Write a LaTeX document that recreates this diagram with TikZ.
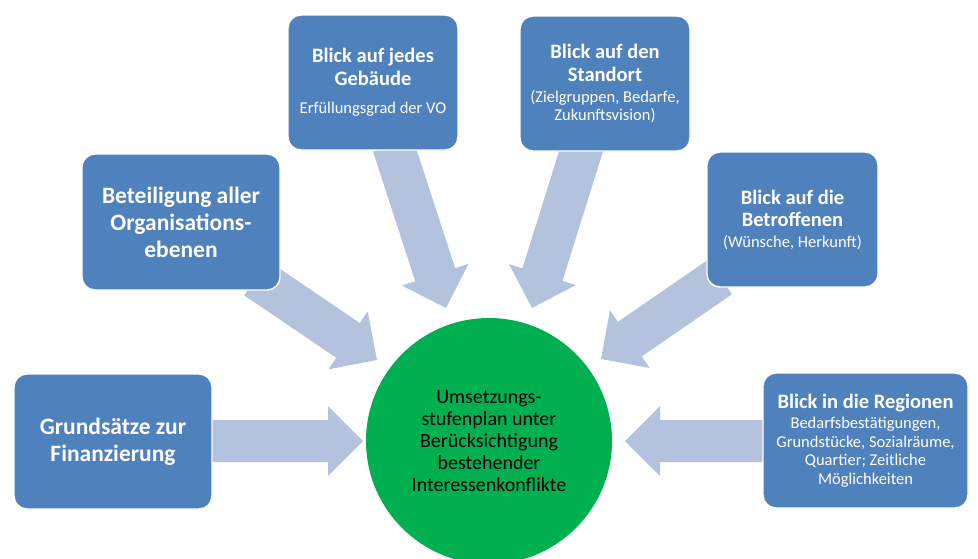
\documentclass[tikz,border=0pt]{standalone}
\usepackage{fontspec}
\setmainfont{Carlito}
\usetikzlibrary{calc,backgrounds}
\definecolor{boxblue}{HTML}{4F81BD}
\definecolor{arrowblue}{HTML}{B3C2DD}
\definecolor{circgreen}{HTML}{00B050}
\def\baSW{21pt}
\def\baHW{35pt}
\def\baHL{35pt}
\newcommand\blockarrow[2]{%
  \coordinate (ba-h) at ($(#2)!\baHL!(#1)$);
  \fill[arrowfill]
    ($(#1)!\baSW!90:(#2)$) -- ($(ba-h)!\baSW!90:(#2)$) -- ($(ba-h)!\baHW!90:(#2)$) --
    (#2) --
    ($(ba-h)!\baHW!-90:(#2)$) -- ($(ba-h)!\baSW!-90:(#2)$) -- ($(#1)!\baSW!-90:(#2)$) -- cycle;
}
\tikzset{
  arrowfill/.style={fill=arrowblue, draw=none},
  bluebox/.style={rectangle, rounded corners=13pt, fill=boxblue, draw=white, line width=1.4pt,
    text=white, align=center, inner sep=0pt},
  ttl/.style={font=\fontsize{20.5}{22.5}\selectfont\bfseries},
  bigttl/.style={font=\fontsize{23.5}{27}\selectfont\bfseries},
  centre/.style={circle, fill=circgreen, draw=none, minimum size=246pt, inner sep=0pt,
    align=center, text=black, font=\fontsize{20}{22}\selectfont},
}
\newcommand\subt{\fontsize{16.5}{18.5}\selectfont\mdseries}
\begin{document}
\begin{tikzpicture}[x=1pt,y=-1pt]
\useasboundingbox (0,0) rectangle (978,558);
\clip (0,0) rectangle (978,558);

\node[centre] (c) at (489,441) {Umsetzungs-\\stufenplan unter\\Berücksichtigung\\bestehender\\Interessenkonflikte};

\node[bluebox, bigttl, minimum width=198pt, minimum height=136pt] (beteil) at (181,222)
  {Beteiligung aller\\Organisations-\\ebenen};
\node[bluebox, ttl, minimum width=170pt, minimum height=135pt] (geb) at (373,82.5)
  {Blick auf jedes\\Gebäude\\[6pt]{\subt Erfüllungsgrad der VO}};
\node[bluebox, ttl, minimum width=170pt, minimum height=135pt] (stand) at (605,83.5)
  {Blick auf den\\Standort\\[-1.5pt]{\subt (Zielgruppen, Bedarfe,}\\[-4pt]{\subt Zukunftsvision)}};
\node[bluebox, ttl, minimum width=171pt, minimum height=135pt] (betr) at (792.5,219.5)
  {Blick auf die\\Betroffenen\\[-2pt]{\subt (Wünsche, Herkunft)}};
\node[bluebox, bigttl, minimum width=198pt, minimum height=135pt] (grund) at (113,441.5)
  {Grundsätze zur\\Finanzierung};
\node[bluebox, ttl, minimum width=205pt, minimum height=135pt] (reg) at (865.5,440.5)
  {Blick in die Regionen\\[-2.5pt]{\subt Bedarfsbestätigungen,}\\[-4pt]{\subt Grundstücke, Sozialräume,}\\[-4pt]{\subt Quartier; Zeitliche}\\[-4pt]{\subt Möglichkeiten}};

\coordinate (s1) at (200,441);  \coordinate (t1) at (363,441);
\coordinate (s2) at (256,278);  \coordinate (t2) at (377,360);
\coordinate (s3) at (393,145);  \coordinate (t3) at (446,308);
\coordinate (s4) at (583,145);  \coordinate (t4) at (532,308);
\coordinate (s5) at (720,277);  \coordinate (t5) at (601,359);
\coordinate (s6) at (775,441);  \coordinate (t6) at (625,441);

\begin{pgfonlayer}{background}
  \blockarrow{s1}{t1}
  \blockarrow{s2}{t2}
  \blockarrow{s3}{t3}
  \blockarrow{s4}{t4}
  \blockarrow{s5}{t5}
  \blockarrow{s6}{t6}
\end{pgfonlayer}
\end{tikzpicture}
\end{document}
